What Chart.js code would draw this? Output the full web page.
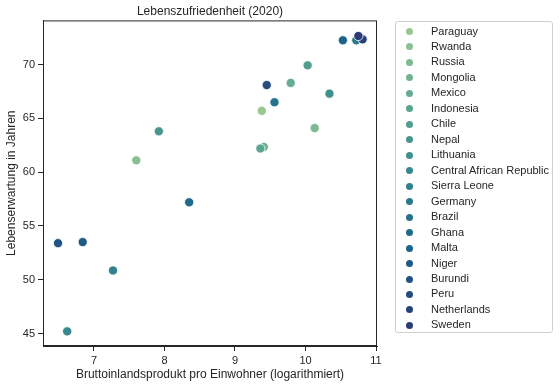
<!DOCTYPE html>
<html>
<head>
<meta charset="utf-8">
<script src="https://cdn.jsdelivr.net/npm/chart.js@4"></script>
<style>
  body { margin: 0; background: #fff; }
  #wrap { position: relative; width: 560px; height: 388px; }
  #legend {
    position: absolute; left: 395px; top: 21px; width: 158px; height: 312px;
    border: 1px solid #d0d0d0; border-radius: 3px; box-sizing: border-box; padding-top: 1.5px;
    font: 11px "Liberation Sans", Arial, sans-serif; color: #262626;
  }
  .item { height: 15.47px; line-height: 15.47px; position: relative; white-space: nowrap; }
  .dot { position: absolute; left: 10px; top: 4.5px; width: 7px; height: 7px; border-radius: 50%; }
  .lbl { position: absolute; left: 35px; }
</style>
</head>
<body>
<div id="wrap">
  <canvas id="scatterChart" width="560" height="388"></canvas>
  <div id="legend"></div>
</div>
<script>
let countries = ["Paraguay", "Rwanda", "Russia", "Mongolia", "Mexico", "Indonesia", "Chile", "Nepal",
  "Lithuania", "Central African Republic", "Sierra Leone", "Germany", "Brazil", "Ghana", "Malta",
  "Niger", "Burundi", "Peru", "Netherlands", "Sweden"];
let gdpLog = [9.38, 7.60, 10.13, 9.41, 9.79, 9.36, 10.03, 7.92, 10.34, 6.62, 7.27, 10.72, 9.56, 8.35,
  10.53, 6.84, 6.49, 9.45, 10.81, 10.75];
let lifeExp = [65.7, 61.1, 64.1, 62.35, 68.3, 62.2, 69.93, 63.8, 67.3, 45.2, 50.86, 72.26, 66.5, 57.2,
  72.26, 53.5, 53.4, 68.1, 72.35, 72.66];
let xTicks = [7, 8, 9, 10, 11];
let yTicks = [45, 50, 55, 60, 65, 70];

// crest-like palette, light green -> dark blue
let crest = ["#a5cd90", "#7dba91", "#59a590", "#40908e", "#287a8c", "#1c6488", "#254b7f", "#2c3172"];
function crestColor(t) {
  let p = t * (crest.length - 1);
  let i = Math.min(Math.floor(p), crest.length - 2);
  let f = p - i;
  let a = crest[i], b = crest[i + 1];
  let c = [1, 3, 5].map(k => {
    let va = parseInt(a.substr(k, 2), 16), vb = parseInt(b.substr(k, 2), 16);
    return Math.round(va + (vb - va) * f);
  });
  return "rgb(" + c.join(",") + ")";
}
let colors = countries.map((c, i) => crestColor((i + 1) / (countries.length + 1)));

let family = "'Liberation Sans', Arial, sans-serif";
let tickFont = { size: 11, family: family };
let labelFont = { size: 12, family: family, weight: "normal" };
let textColor = "#262626";

const frame = {
  id: "frame",
  afterDraw(chart) {
    let a = chart.chartArea, ctx = chart.ctx;
    ctx.save();
    ctx.strokeStyle = textColor;
    ctx.lineWidth = 1;
    ctx.strokeRect(a.left + 0.5, a.top + 0.5, a.right - a.left - 1, a.bottom - a.top - 1);
    ctx.restore();
  },
};

new Chart(document.querySelector("#scatterChart"), {
  type: "scatter",
  data: {
    datasets: countries.map((c, i) => ({
      label: c,
      data: [{ x: gdpLog[i], y: lifeExp[i] }],
      backgroundColor: colors[i],
      borderColor: "#ffffff",
      borderWidth: 0.8,
      pointRadius: 4.6,
      order: countries.length - i,
    })),
  },
  options: {
    responsive: false,
    animation: false,
    layout: { padding: { left: 0, right: 183, top: 0, bottom: 0 } },
    plugins: {
      legend: { display: false },
      tooltip: { enabled: false },
      title: {
        display: true,
        fullSize: false,
        text: "Lebenszufriedenheit (2020)",
        color: textColor,
        font: labelFont,
        padding: { top: 4, bottom: 2 },
      },
    },
    scales: {
      x: {
        type: "linear",
        min: 6.277,
        max: 11.014,
        afterBuildTicks: (s) => { s.ticks = xTicks.map(v => ({ value: v })); },
        afterFit: (s) => { s.height = 42; },
        grid: { drawOnChartArea: false, drawTicks: true, tickLength: 5, tickColor: textColor },
        border: { color: textColor, width: 1 },
        ticks: { color: textColor, font: tickFont, padding: 3, maxRotation: 0 },
        title: {
          display: true,
          text: "Bruttoinlandsprodukt pro Einwohner (logarithmiert)",
          color: textColor,
          font: labelFont,
          padding: { top: 0, bottom: 6 },
        },
      },
      y: {
        type: "linear",
        min: 43.84,
        max: 74.11,
        afterBuildTicks: (s) => { s.ticks = yTicks.map(v => ({ value: v })); },
        afterFit: (s) => { s.width = 43; },
        grid: { drawOnChartArea: false, drawTicks: true, tickLength: 5, tickColor: textColor },
        border: { color: textColor, width: 1 },
        ticks: { color: textColor, font: tickFont, padding: 3 },
        title: {
          display: true,
          text: "Lebenserwartung in Jahren",
          color: textColor,
          font: labelFont,
          padding: { top: 4, bottom: 0 },
        },
      },
    },
  },
  plugins: [frame],
});

let legend = document.querySelector("#legend");
countries.forEach((c, i) => {
  let row = document.createElement("div");
  row.className = "item";
  row.innerHTML = '<span class="dot" style="background:' + colors[i] + '"></span><span class="lbl">' + c + "</span>";
  legend.appendChild(row);
});
</script>
</body>
</html>
